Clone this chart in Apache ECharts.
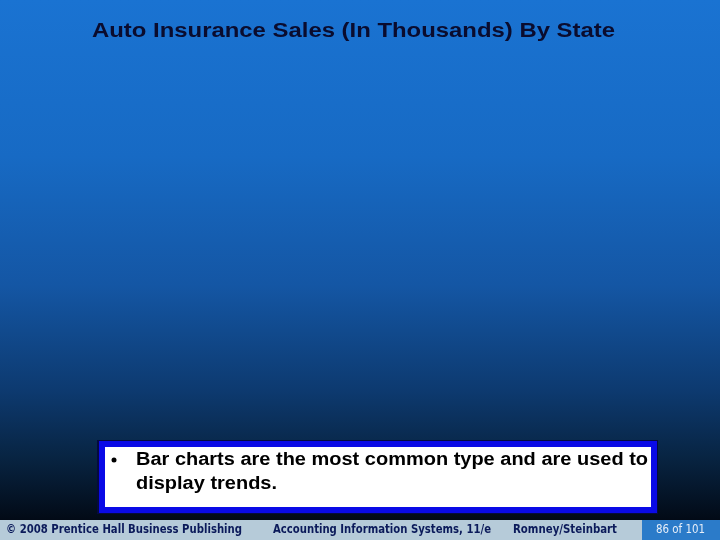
<!DOCTYPE html>
<html>
<head>
<meta charset="utf-8">
<script src="https://cdn.jsdelivr.net/npm/echarts@6/dist/echarts.min.js"></script>
<style>
  html, body { margin: 0; padding: 0; }
  #main { width: 720px; height: 540px; }
</style>
</head>
<body>
<div id="main"></div>
<script>
// slide texts (the chart itself is blank on this slide)
let titleText = 'Auto Insurance Sales (In Thousands) By State';
let bulletLines = ['Bar charts are the most common type and are used to', 'display trends.'];
let footerLabels = ['\u00a9 2008 Prentice Hall Business Publishing', 'Accounting Information Systems, 11/e', 'Romney/Steinbart'];
let pageLabel = '86 of 101';

let chart = echarts.init(document.getElementById('main'));

let sans = '"Liberation Sans", Arial, sans-serif';
let narrow = '"DejaVu Sans Condensed", "Liberation Sans Narrow", sans-serif';

// the slide fonts run wider than Liberation, so stretch each line to its width in the picture
let ctx = document.createElement('canvas').getContext('2d');
function fitScale(text, font, width){
    ctx.font = font;
    return width / ctx.measureText(text).width;
}

function textItem(text, x, y, font, fill, width){
    return {type: 'text', x: x, y: y, z: 5, scaleX: fitScale(text, font, width),
        style: {text: text, font: font, fill: fill, textAlign: 'left', textVerticalAlign: 'middle'}};
}

let titleFont = 'bold 20px ' + sans;
let bulletFont = 'bold 18px ' + sans;
let footFont = 'bold 12px ' + narrow;

let footerX = [6, 273, 513];
let footerW = [236, 218, 104];

let graphics = [
    // background gradient
    {type: 'rect', shape: {x: 0, y: 0, width: 720, height: 520},
     style: {fill: new echarts.graphic.LinearGradient(0, 0, 0, 1, [
        {offset: 0, color: '#1a73d2'},
        {offset: 0.3, color: '#176ac4'},
        {offset: 0.55, color: '#1456a4'},
        {offset: 0.75, color: '#0d3a70'},
        {offset: 0.88, color: '#082442'},
        {offset: 1, color: '#020a16'}
     ])}, z: 0},
    textItem(titleText, 92, 31, titleFont, '#0a0c2e', 523),
    // callout box
    {type: 'rect', shape: {x: 97, y: 440, width: 561, height: 74},
     style: {fill: '#050a40'}, z: 2},
    {type: 'rect', shape: {x: 99, y: 441, width: 558, height: 72},
     style: {fill: '#0a0ae6'}, z: 3},
    {type: 'rect', shape: {x: 105, y: 447, width: 546, height: 60},
     style: {fill: '#ffffff'}, z: 4},
    {type: 'circle', shape: {cx: 114, cy: 460, r: 2.5}, style: {fill: '#000'}, z: 5},
    // footer
    {type: 'rect', shape: {x: 0, y: 520, width: 642, height: 20}, style: {fill: '#b6cbd9'}, z: 2},
    {type: 'rect', shape: {x: 642, y: 520, width: 78, height: 20}, style: {fill: '#2b7bc9'}, z: 2},
    textItem(pageLabel, 656, 530, '12px ' + narrow, '#e6eef8', 49)
];

graphics.push(textItem(bulletLines[0], 136, 460, bulletFont, '#000', 512));
graphics.push(textItem(bulletLines[1], 136, 484, bulletFont, '#000', 141));

footerLabels.forEach(function(label, i){
    graphics.push(textItem(label, footerX[i], 530, footFont, '#0b1a5a', footerW[i]));
});

chart.setOption({
    animation: false,
    backgroundColor: '#1a73d2',
    graphic: graphics
});
</script>
</body>
</html>
